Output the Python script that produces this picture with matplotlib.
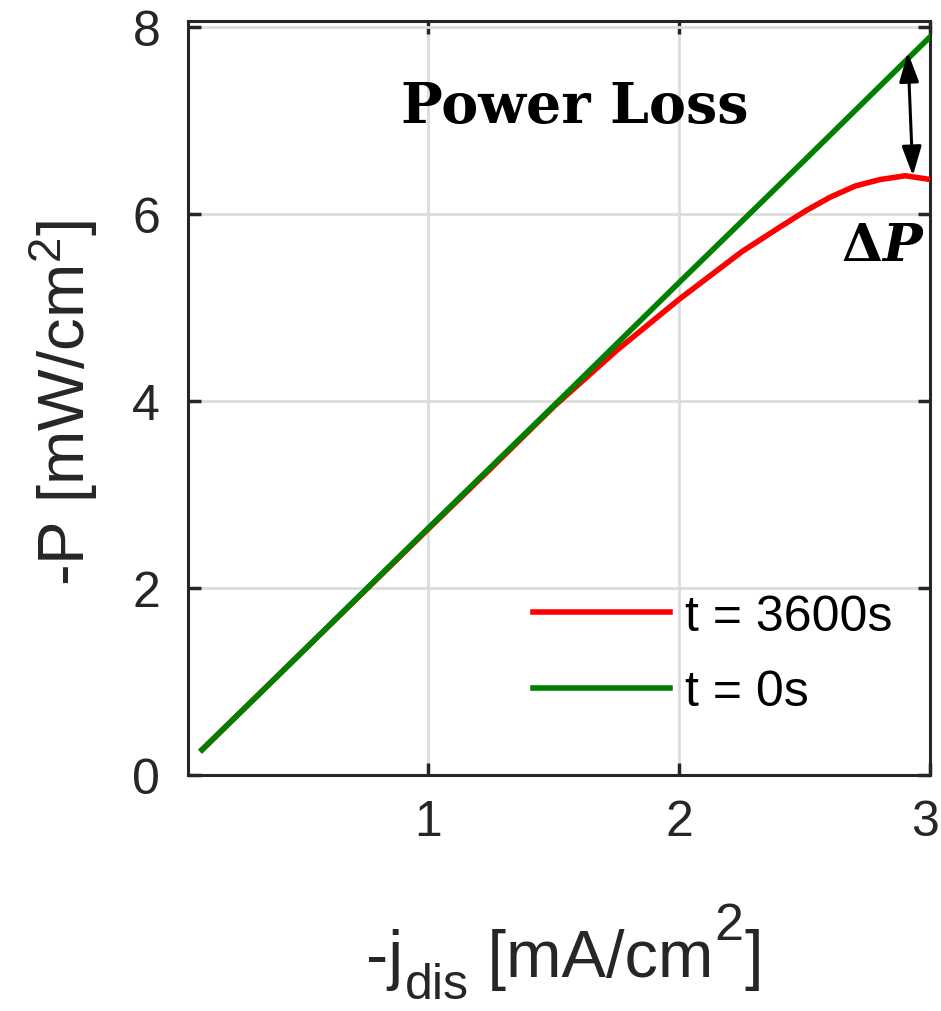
import matplotlib.pyplot as plt
from matplotlib.transforms import ScaledTranslation

plt.rcParams['font.family'] = 'Liberation Sans'
plt.rcParams['mathtext.fontset'] = 'custom'
plt.rcParams['mathtext.rm'] = 'Liberation Sans'
plt.rcParams['mathtext.it'] = 'Liberation Sans:italic'
plt.rcParams['mathtext.bf'] = 'Liberation Sans:bold'

j_0s = [0.1, 0.5, 1.0, 1.5, 2.0, 2.5, 3.0]
p_0s = [0.27, 1.32, 2.64, 3.95, 5.27, 6.58, 7.90]

j_3600s = [0.1, 0.5, 1.0, 1.25, 1.5, 1.75, 2.0, 2.25, 2.4, 2.5, 2.6, 2.7, 2.8, 2.9, 3.0]
p_3600s = [0.27, 1.32, 2.63, 3.28, 3.94, 4.54, 5.09, 5.60, 5.86, 6.03, 6.18, 6.30, 6.37, 6.41, 6.37]

x_ticks = [1, 2, 3]
y_ticks = [0, 2, 4, 6, 8]

TXT = '#262626'

fig = plt.figure(figsize=(9.41, 10.12), dpi=100)
ax = fig.add_axes([0.1998, 0.2332, 0.789, 0.745])

ax.plot(j_3600s, p_3600s, color='#ff0000', lw=4, label='t = 3600s', zorder=3)
ax.plot(j_0s, p_0s, color='#008000', lw=4, label='t = 0s', zorder=3)

ax.set_xlim(0.044, 3.0)
ax.set_ylim(0, 8.065)
ax.set_xticks(x_ticks)
ax.set_yticks(y_ticks)
ax.grid(True, color='#dcdcdc', lw=2)
ax.set_axisbelow(True)
for s in ax.spines.values():
    s.set_color(TXT)
    s.set_linewidth(2.2)
ax.tick_params(direction='in', length=9, width=2.5, color=TXT,
               top=True, right=True, labelsize=36, labelcolor=TXT)
ax.tick_params(axis='y', pad=20)
ax.tick_params(axis='x', pad=17)
# last x tick label sits right at the figure edge; nudge it in a little
last = ax.get_xticklabels()[-1]
last.set_transform(last.get_transform() + ScaledTranslation(-4 / 72, 0, fig.dpi_scale_trans))

ax.set_ylabel(r'-P [mW/cm$^{2}$]', fontsize=47, color=TXT)
ax.yaxis.set_label_coords(-0.118, 0.495)

# x label built piece by piece so the subscript drops like the original
fs = 48
yb = (1012 - 977) / 1012
t1 = fig.text(0.389, yb, '-j', fontsize=fs, color=TXT, va='baseline')
t2 = ax.annotate('dis', xy=(1, yb), xycoords=(t1, 'figure fraction'),
                 xytext=(2, -22), textcoords='offset pixels',
                 fontsize=fs * 0.75, color=TXT, va='baseline')
t3 = ax.annotate(' [mA/cm', xy=(1, yb), xycoords=(t2, 'figure fraction'),
                 fontsize=fs, color=TXT, va='baseline')
t4 = ax.annotate('2', xy=(1, yb), xycoords=(t3, 'figure fraction'),
                 xytext=(1, 37), textcoords='offset pixels',
                 fontsize=fs * 0.78, color=TXT, va='baseline')
ax.annotate(']', xy=(1, yb), xycoords=(t4, 'figure fraction'),
            xytext=(1, 0), textcoords='offset pixels',
            fontsize=fs, color=TXT, va='baseline')

ax.text(1.582, 6.98, 'Power Loss', family='DejaVu Serif', fontweight='bold',
        fontsize=40, ha='center', va='baseline')
ax.text(2.809, 5.51, '\u0394', family='DejaVu Serif', fontweight='bold',
        fontsize=38, ha='right', va='baseline')
ax.text(2.809, 5.51, 'P', family='DejaVu Serif', fontweight='bold', style='italic',
        fontsize=38, ha='left', va='baseline')
ax.annotate('', xy=(2.91, 7.73), xytext=(2.93, 6.41),
            arrowprops=dict(arrowstyle='<|-|>,head_length=1.8,head_width=0.6',
                            color='black', lw=2.2, shrinkA=0, shrinkB=0))

ax.legend(loc='center left', bbox_to_anchor=(0.464, 0.160), frameon=False,
          fontsize=36, handlelength=2.74, handletextpad=0.3, labelspacing=0.59,
          borderpad=0, borderaxespad=0)

fig.savefig('out.png', dpi=100)
